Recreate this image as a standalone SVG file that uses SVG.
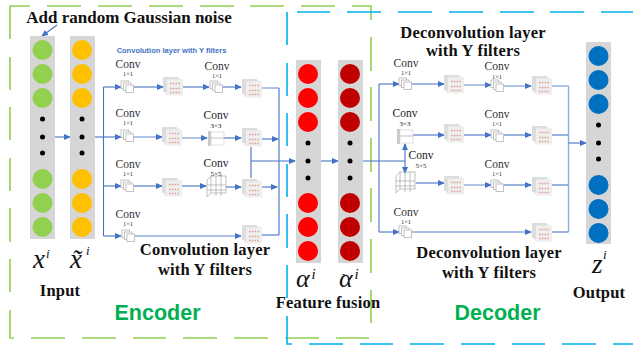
<svg xmlns="http://www.w3.org/2000/svg" xmlns:xlink="http://www.w3.org/1999/xlink" width="633" height="349" viewBox="0 0 633 349">
<style>
text{font-family:"Liberation Serif","Times New Roman",serif;fill:#111}
.b{font-weight:bold;font-size:16.5px;text-anchor:middle;letter-spacing:.2px}
.c{font-size:11.5px;text-anchor:middle;fill:#333}
.c2{font-size:11.5px;text-anchor:middle;fill:#222}
.s{font-size:6.5px;fill:#333}
.s2{font-size:7px;fill:#222}
.m{font-style:italic;font-size:27px}
.a{font-style:italic;font-size:26px}
.i{font-style:italic;font-size:13px}
.i2{font-style:italic;font-size:15px}
.ta{font-style:normal;font-size:15px}
.t{font-family:"Liberation Sans",Arial,sans-serif;font-weight:bold;font-size:21.5px;fill:#00B050;text-anchor:middle}
.col{fill:#D6D6D6}
.d{fill:#000}
.gd{fill:none;stroke:#92D050;stroke-width:1.6}
.bd{fill:none;stroke:#00B0F0;stroke-width:1.6}
.l{fill:none;stroke:#4472C4;stroke-width:1.1}
.la{marker-end:url(#a)}
.p{fill:none;stroke:#8FAADC;stroke-width:1.4}
.sq{fill:#fff;stroke:#BDBDBD;stroke-width:.9}
.g1{fill:#DDDDDD}
.g2{fill:#EFEFEF}
.r{fill:none;stroke:#DE9F90;stroke-width:1.5;stroke-dasharray:1.5 1.3}
.k{fill:none;stroke:#B0B0B0;stroke-width:.8}
</style>
<defs>
<marker id="a" markerWidth="7" markerHeight="6" refX="6" refY="3" orient="auto" markerUnits="userSpaceOnUse"><path d="M0,0L7,3L0,6Z" fill="#4472C4"/></marker>
<g id="stack"><rect class="sq" x="0" y="0" width="7.5" height="7.5"/><rect class="sq" x="2.5" y="2" width="7.5" height="7.5"/><rect class="sq" x="5" y="4" width="7.5" height="7.5"/></g>
<g id="fm"><rect class="g1" x="0" y="0" width="15" height="15"/><rect class="g1" x="2" y="1.5" width="16" height="16" opacity=".7"/><rect class="g2" x="4" y="2.5" width="16" height="16"/><path class="r" d="M7,6.5H18M7,11.5H18M7,15.5H18"/></g>
<g id="c3"><rect x="0" y="0" width="3" height="15" fill="#C9C9C9"/><rect x="3" y="1" width="13" height="13" fill="#fff" stroke="#D4D4D4" stroke-width=".7"/><path class="k" d="M3,7H16"/></g>
<g id="c5"><path class="k" d="M0,4L4,0H19V17H4L0,21ZM4,0V17M0,9H19M0,14H19M9,0V20M14,0V20"/></g>
</defs>
<g id="encoder-frame"><path class="gd" d="M10,39V6H30M47,6H81M98,6H132M149,6H183M200,6H234M250,6H284M301,6H335M352,6H371V20M371,37V71M371,87V121M371,138V172M371,188V222M371,239V273M371,290V323M369,338H336M319,338H285M268,338H234M217,338H183M166,338H133M116,338H82M65,338H31M14,338H10V310M10,292V259M10,242V208M10,191V158M10,140V107M10,90V57"/></g>
<g id="decoder-frame"><path class="bd" d="M287,45V12M297,12H330M347,12H381M398,12H432M449,12H483M500,12H534M550,12H584M601,12H633M287,63V96M287,113V146M287,164V197M287,214V248M287,265V298M287,316V344H292M309,344H343M360,344H393M410,344H444M461,344H495M512,344H545M562,344H596M613,344H633"/></g>
<g id="connectors">
<path class="l la" d="M57,25L42,36"/>
<path class="l la" d="M55,137H70"/>
<path class="l la" d="M94,137H121"/>
<path class="l" d="M103.500,137V87M103.500,137V236"/>
<path class="l la" d="M103.500,87H121"/><path class="l la" d="M133,87H163"/><path class="l la" d="M182,87H209"/><path class="l la" d="M221,87H241"/><path class="p" d="M262,88H279"/>
<path class="p la" d="M133,137H162"/><path class="p la" d="M182,138H207"/><path class="l la" d="M224,138H241"/><path class="l la" d="M262,139H278"/>
<path class="l la" d="M103.500,186H121"/><path class="l la" d="M133,186H162"/><path class="l la" d="M182,186H206"/><path class="l la" d="M226,187H241"/><path class="l la" d="M262,187H277"/>
<path class="l la" d="M103.500,236H121"/><path class="p la" d="M134,236H241"/><path class="l" d="M262,235H279"/>
<path class="l" d="M279,88V235M251,147V178"/><path class="l la" d="M251,161H295"/>
<path class="l la" d="M321,161H338"/>
<path class="l" d="M363,161H405"/>
<path class="l" d="M379,84V232"/>
<path class="l la" d="M405,161V144"/><path class="l la" d="M405,161V173"/>
<path class="l la" d="M379,84H399"/><path class="l la" d="M411,84H444"/><path class="p la" d="M464,85H491"/><path class="p la" d="M503,86H531"/><path class="p" d="M551,86H568.500"/>
<path class="l la" d="M413,135H444"/><path class="l la" d="M462,135H491"/><path class="l la" d="M503,135H531"/><path class="l" d="M551,135H568.500"/>
<path class="l la" d="M416,183H444"/><path class="p la" d="M464,185H491"/><path class="l la" d="M503,185H531"/><path class="l" d="M551,185H568.500"/>
<path class="l la" d="M379,232H399"/><path class="p la" d="M411,232H531"/><path class="l" d="M551,232H568.500"/>
<path class="p" d="M568.500,86V232"/>
<path class="l la" d="M568.500,143H586"/>
</g>
<g id="noise-label"><text x="129" y="23" class="b" style="font-size:17px;letter-spacing:0">Add random Gaussian noise</text></g>
<g id="input-x">
<rect class="col" x="30" y="36" width="25" height="203"/>
<g fill="#92D050"><circle cx="42.500" cy="50" r="10"/><circle cx="42.500" cy="74" r="10"/><circle cx="42.500" cy="98" r="10"/><circle cx="42.500" cy="179" r="10"/><circle cx="42.500" cy="203" r="10"/><circle cx="42.500" cy="227" r="10"/></g>
<g class="d"><circle cx="42.500" cy="119" r="2.500"/><circle cx="42.500" cy="137" r="2.500"/><circle cx="42.500" cy="153" r="2.500"/></g>
<text x="33" y="268" class="m">x<tspan x="46" y="258" class="i">i</tspan></text>
</g>
<g id="input-noisy">
<rect class="col" x="70" y="36" width="25" height="203"/>
<g fill="#FFC000"><circle cx="82" cy="50" r="10"/><circle cx="82" cy="74" r="10"/><circle cx="82" cy="98" r="10"/><circle cx="82" cy="179" r="10"/><circle cx="82" cy="203" r="10"/><circle cx="82" cy="227" r="10"/></g>
<g class="d"><circle cx="82" cy="119" r="2.500"/><circle cx="82" cy="137" r="2.500"/><circle cx="82" cy="153" r="2.500"/></g>
<text x="70" y="268" class="m">x&#771;<tspan x="86" y="255" class="i">i</tspan></text>
</g>
<g id="input-label"><text x="60" y="296" class="b">Input</text></g>
<g id="enc-blue-label"><text x="171.500" y="53" style="font-family:'Liberation Sans',Arial,sans-serif;font-weight:bold;font-size:7.500px;fill:#4472C4;text-anchor:middle">Convolution layer with Y filters</text></g>
<g id="enc-r1-conv1"><use xlink:href="#stack" href="#stack" x="121" y="81"/><text x="128" y="67.500" class="c">Conv<tspan x="128" y="76" class="s">1×1</tspan></text></g>
<g id="enc-r1-fm1"><use xlink:href="#fm" href="#fm" x="163" y="77"/></g>
<g id="enc-r1-conv2"><use xlink:href="#stack" href="#stack" x="210" y="81"/><text x="217" y="69.500" class="c">Conv<tspan x="217" y="78" class="s">1×1</tspan></text></g>
<g id="enc-r1-fm2"><use xlink:href="#fm" href="#fm" x="242" y="79"/></g>
<g id="enc-r2-conv1"><use xlink:href="#stack" href="#stack" x="121" y="130"/><text x="128" y="116.500" class="c">Conv<tspan x="128" y="125" class="s">1×1</tspan></text></g>
<g id="enc-r2-fm1"><use xlink:href="#fm" href="#fm" x="162" y="127"/></g>
<g id="enc-r2-conv2"><use xlink:href="#c3" href="#c3" x="208" y="131"/><text x="216" y="119" class="c2">Conv<tspan x="216" y="128" class="s2">3×3</tspan></text></g>
<g id="enc-r2-fm2"><use xlink:href="#fm" href="#fm" x="242" y="128"/></g>
<g id="enc-r3-conv1"><use xlink:href="#stack" href="#stack" x="121" y="180"/><text x="128" y="167.500" class="c">Conv<tspan x="128" y="176" class="s">1×1</tspan></text></g>
<g id="enc-r3-fm1"><use xlink:href="#fm" href="#fm" x="162" y="178"/></g>
<g id="enc-r3-conv2"><use xlink:href="#c5" href="#c5" x="207" y="176"/><text x="216" y="167" class="c2">Conv<tspan x="216" y="176" class="s2">5×5</tspan></text></g>
<g id="enc-r3-fm2"><use xlink:href="#fm" href="#fm" x="242" y="179"/></g>
<g id="enc-r4-conv1"><use xlink:href="#stack" href="#stack" x="122" y="230"/><text x="128" y="217.500" class="c">Conv<tspan x="128" y="226" class="s">1×1</tspan></text></g>
<g id="enc-r4-fm1"><use xlink:href="#fm" href="#fm" x="242" y="225"/></g>
<g id="enc-label"><text x="205" y="255" class="b">Convolution layer</text><text x="205" y="275" class="b">with Y filters</text></g>
<g id="encoder-title"><text x="157.500" y="320" class="t">Encoder</text></g>
<g id="fusion-alpha">
<rect class="col" x="296" y="60" width="25" height="203"/>
<g fill="#FF0000"><circle cx="308" cy="74" r="10"/><circle cx="308" cy="98" r="10"/><circle cx="308" cy="122" r="10"/><circle cx="308" cy="203" r="10"/><circle cx="308" cy="227" r="10"/><circle cx="308" cy="251" r="10"/></g>
<g class="d"><circle cx="308" cy="143" r="2.500"/><circle cx="308" cy="161" r="2.500"/><circle cx="308" cy="178" r="2.500"/></g>
<text x="296" y="287" class="a">α<tspan x="311.500" y="279" class="i2">i</tspan></text>
</g>
<g id="fusion-tilde">
<rect class="col" x="338" y="60" width="25" height="203"/>
<g fill="#C00000"><circle cx="350" cy="74" r="10"/><circle cx="350" cy="98" r="10"/><circle cx="350" cy="122" r="10"/><circle cx="350" cy="203" r="10"/><circle cx="350" cy="227" r="10"/><circle cx="350" cy="251" r="10"/></g>
<g class="d"><circle cx="350" cy="143" r="2.500"/><circle cx="350" cy="161" r="2.500"/><circle cx="350" cy="178" r="2.500"/></g>
<text x="339" y="287" class="a">α<tspan x="342" y="284" class="ta">˜</tspan><tspan x="354.500" y="279" class="i2">i</tspan></text>
</g>
<g id="fusion-label"><text x="328" y="308" class="b">Feature fusion</text></g>
<g id="dec-r1-conv1"><use xlink:href="#stack" href="#stack" x="399" y="78"/><text x="406" y="66.500" class="c">Conv<tspan x="406" y="75" class="s">1×1</tspan></text></g>
<g id="dec-r1-fm1"><use xlink:href="#fm" href="#fm" x="444" y="75"/></g>
<g id="dec-r1-conv2"><use xlink:href="#stack" href="#stack" x="491" y="80"/><text x="497" y="70" class="c">Conv<tspan x="497" y="78.500" class="s">1×1</tspan></text></g>
<g id="dec-r1-fm2"><use xlink:href="#fm" href="#fm" x="532" y="76"/></g>
<g id="dec-r2-conv1"><use xlink:href="#c3" href="#c3" x="397" y="129"/><text x="405" y="117" class="c2">Conv<tspan x="405" y="126" class="s2">3×3</tspan></text></g>
<g id="dec-r2-fm1"><use xlink:href="#fm" href="#fm" x="444" y="124"/></g>
<g id="dec-r2-conv2"><use xlink:href="#stack" href="#stack" x="491" y="130"/><text x="497" y="117.500" class="c">Conv<tspan x="497" y="126" class="s">1×1</tspan></text></g>
<g id="dec-r2-fm2"><use xlink:href="#fm" href="#fm" x="532" y="126"/></g>
<g id="dec-r3-conv1"><use xlink:href="#c5" href="#c5" x="396" y="172"/><text x="421" y="159" class="c2">Conv<tspan x="421" y="168" class="s2">5×5</tspan></text></g>
<g id="dec-r3-fm1"><use xlink:href="#fm" href="#fm" x="444" y="176"/></g>
<g id="dec-r3-conv2"><use xlink:href="#stack" href="#stack" x="491" y="180"/><text x="497" y="167.500" class="c">Conv<tspan x="497" y="176" class="s">1×1</tspan></text></g>
<g id="dec-r3-fm2"><use xlink:href="#fm" href="#fm" x="532" y="177"/></g>
<g id="dec-r4-conv1"><use xlink:href="#stack" href="#stack" x="399" y="226"/><text x="406" y="215.500" class="c">Conv<tspan x="406" y="224" class="s">1×1</tspan></text></g>
<g id="dec-r4-fm1"><use xlink:href="#fm" href="#fm" x="532" y="223"/></g>
<g id="dec-label-top"><text x="473" y="38" class="b">Deconvolution layer</text><text x="473" y="56" class="b">with Y filters</text></g>
<g id="dec-label-bottom"><text x="489" y="258" class="b">Deconvolution layer</text><text x="489" y="278" class="b">with Y filters</text></g>
<g id="decoder-title"><text x="497.500" y="320" class="t">Decoder</text></g>
<g id="output-z">
<rect class="col" x="586" y="42" width="25" height="202"/>
<g fill="#0070C0"><circle cx="598.500" cy="56" r="10"/><circle cx="598.500" cy="80" r="10"/><circle cx="598.500" cy="104" r="10"/><circle cx="598.500" cy="185" r="10"/><circle cx="598.500" cy="209" r="10"/><circle cx="598.500" cy="233" r="10"/></g>
<g class="d"><circle cx="598.500" cy="125" r="2.500"/><circle cx="598.500" cy="143" r="2.500"/><circle cx="598.500" cy="159" r="2.500"/></g>
<text x="592" y="273" class="m">z<tspan x="603" y="259" class="i">i</tspan></text>
</g>
<g id="output-label"><text x="599" y="298" class="b">Output</text></g>
</svg>
